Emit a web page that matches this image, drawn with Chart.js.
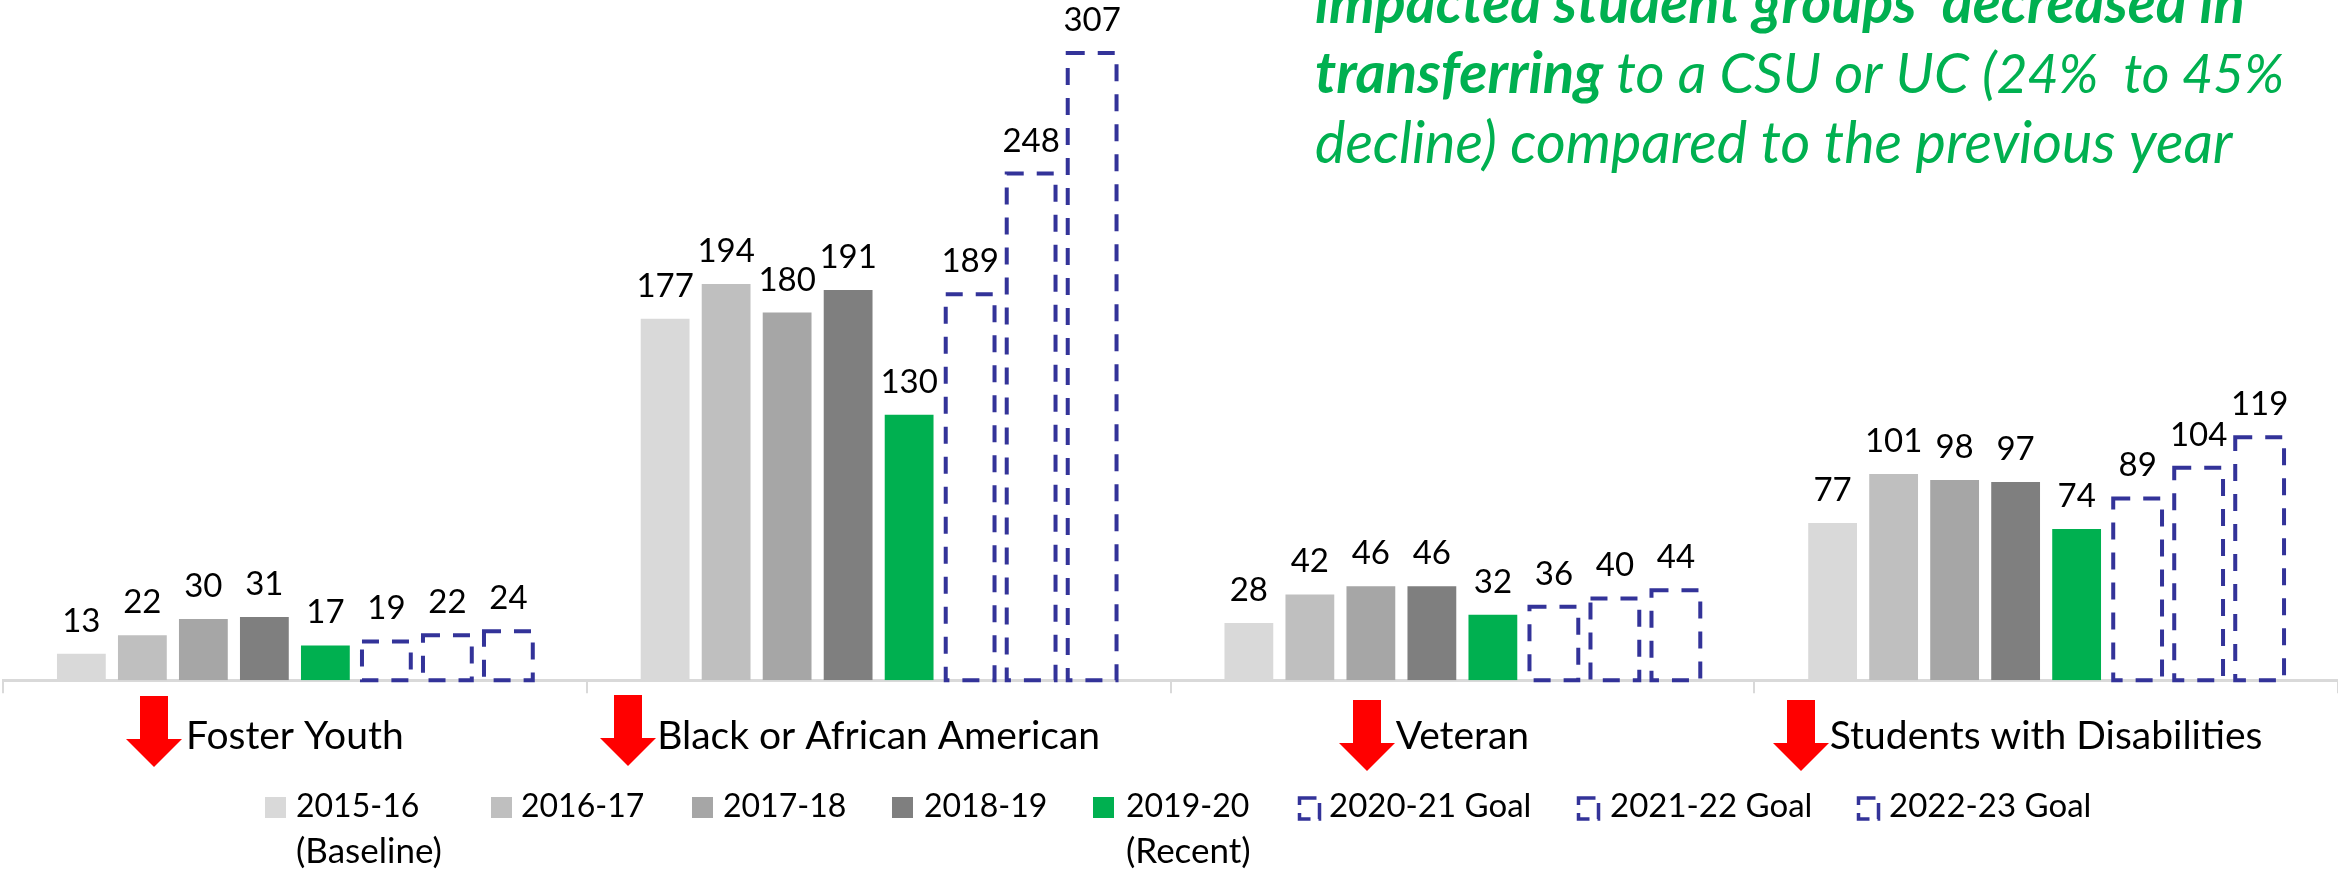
<!DOCTYPE html>
<html lang="en">
<head>
<meta charset="UTF-8">
<title>Transfer to CSU or UC by student group</title>
<script src="https://cdn.jsdelivr.net/npm/chart.js"></script>
<style>
    html, body { margin: 0; padding: 0; background: #fff; overflow: hidden; }
    canvas { display: block; }
</style>
</head>
<body>
<canvas id="transferChart" width="2338" height="871"></canvas>
<script>
const categories = ['Foster Youth', 'Black or African American', 'Veteran', 'Students with Disabilities'];
const seriesNames = ['2015-16', '2016-17', '2017-18', '2018-19', '2019-20', '2020-21 Goal', '2021-22 Goal', '2022-23 Goal'];
const values2015 = [13, 177, 28, 77];
const values2016 = [22, 194, 42, 101];
const values2017 = [30, 180, 46, 98];
const values2018 = [31, 191, 46, 97];
const values2019 = [17, 130, 32, 74];
const goal2020 = [19, 189, 36, 89];
const goal2021 = [22, 248, 40, 104];
const goal2022 = [24, 307, 44, 119];

const allValues = [values2015, values2016, values2017, values2018, values2019, goal2020, goal2021, goal2022];
const barColors = ['#d9d9d9', '#bfbfbf', '#a6a6a6', '#7f7f7f', '#00b050', 'transparent', 'transparent', 'transparent'];
const GOAL_BLUE = '#333399';
const GREEN = '#00b050';
const FONT = 'Lato, Carlito, sans-serif';

// legend entries: swatch x, text x, second line under the label
const legendItems = [
    { sx: 265, tx: 296, sub: '(Baseline)' },
    { sx: 491, tx: 521 },
    { sx: 692, tx: 723 },
    { sx: 892, tx: 924 },
    { sx: 1093, tx: 1126, sub: '(Recent)' },
    { sx: 1298, tx: 1329 },
    { sx: 1577, tx: 1610 },
    { sx: 1857, tx: 1889 }
];

// red arrows under the category axis
const arrows = [
    { x: 154, top: 696, neck: 739, tip: 767, stem: 14, head: 28 },
    { x: 628, top: 695, neck: 738, tip: 766, stem: 14, head: 28 },
    { x: 1367, top: 700, neck: 743, tip: 771, stem: 14, head: 28 },
    { x: 1801, top: 700, neck: 743, tip: 771, stem: 14, head: 28 }
];

// note in the top right corner, first line is cut by the page edge
// run = text, bold, font size
const noteLines = [
    { y: 23, runs: [['impacted student groups  decreased in', true, 57.5]] },
    { y: 93, runs: [['transferring', true, 58], [' to a CSU or UC (', false, 56], ['24%  to 45%', false, 53.5]] },
    { y: 163, runs: [['decline) compared to the previous year', false, 57.5]] }
];

const goalBars = {
    id: 'goalBars',
    afterDatasetsDraw(chart) {
        const ctx = chart.ctx;
        ctx.save();
        ctx.strokeStyle = GOAL_BLUE;
        ctx.lineWidth = 4;
        ctx.setLineDash([17, 13]);
        for (let d = 5; d < 8; d++) {
            chart.getDatasetMeta(d).data.forEach(function(bar) {
                const left = bar.x - bar.width / 2;
                ctx.strokeRect(left, bar.y, bar.width, bar.base - bar.y);
            });
        }
        ctx.restore();

        // value labels above every bar
        ctx.save();
        ctx.font = '33px ' + FONT;
        ctx.fillStyle = '#000';
        ctx.textAlign = 'center';
        ctx.textBaseline = 'alphabetic';
        chart.data.datasets.forEach(function(ds, d) {
            chart.getDatasetMeta(d).data.forEach(function(bar, i) {
                ctx.fillText(ds.data[i], bar.x, bar.y - 22);
            });
        });
        ctx.restore();
    }
};

const extras = {
    id: 'extras',
    afterDraw(chart) {
        const ctx = chart.ctx;

        // arrows
        ctx.save();
        ctx.fillStyle = '#ff0000';
        arrows.forEach(function(a) {
            ctx.beginPath();
            ctx.moveTo(a.x - a.stem, a.top);
            ctx.lineTo(a.x + a.stem, a.top);
            ctx.lineTo(a.x + a.stem, a.neck);
            ctx.lineTo(a.x + a.head, a.neck);
            ctx.lineTo(a.x, a.tip);
            ctx.lineTo(a.x - a.head, a.neck);
            ctx.lineTo(a.x - a.stem, a.neck);
            ctx.closePath();
            ctx.fill();
        });
        ctx.restore();

        // legend
        ctx.save();
        ctx.textBaseline = 'alphabetic';
        legendItems.forEach(function(item, i) {
            if (i < 5) {
                ctx.fillStyle = barColors[i];
                ctx.fillRect(item.sx, 797, 21, 21);
            } else {
                ctx.strokeStyle = GOAL_BLUE;
                ctx.lineWidth = 3.5;
                ctx.setLineDash([17, 8]);
                ctx.strokeRect(item.sx + 1.5, 798, 20, 21);
                ctx.setLineDash([]);
            }
            ctx.fillStyle = '#000';
            ctx.font = (i < 5 ? '32px ' : '33px ') + FONT;
            ctx.fillText(seriesNames[i], item.tx, 817);
            if (item.sub) {
                ctx.font = '35px ' + FONT;
                ctx.fillText(item.sub, item.tx, 863);
            }
        });
        ctx.restore();

        // note
        ctx.save();
        ctx.fillStyle = GREEN;
        ctx.textBaseline = 'alphabetic';
        noteLines.forEach(function(line) {
            let x = 1315;
            line.runs.forEach(function(run) {
                ctx.font = (run[1] ? 'italic bold ' : 'italic ') + run[2] + 'px ' + FONT;
                ctx.fillText(run[0], x, line.y);
                x += ctx.measureText(run[0]).width;
            });
        });
        ctx.restore();
    }
};

const ctx = document.getElementById('transferChart').getContext('2d');
const transferChart = new Chart(ctx, {
    type: 'bar',
    data: {
        labels: categories,
        datasets: allValues.map(function(vals, i) {
            return {
                label: seriesNames[i],
                data: vals,
                backgroundColor: barColors[i],
                borderWidth: 0,
                categoryPercentage: 0.836,
                barPercentage: 0.8
            };
        })
    },
    plugins: [goalBars, extras],
    options: {
        responsive: false,
        animation: false,
        layout: { padding: { left: 3, right: 0, top: 0, bottom: 91 } },
        plugins: { legend: { display: false }, tooltip: { enabled: false } },
        scales: {
            x: {
                z: 1,
                grid: { offset: true, drawOnChartArea: false, drawTicks: true, tickLength: 13, color: '#d9d9d9', lineWidth: 2 },
                border: { color: '#d9d9d9', width: 3 },
                ticks: { color: '#000', padding: 20, maxRotation: 0, autoSkip: false, font: { family: FONT, size: 39 } }
            },
            y: { display: false, min: 0, max: 333 }
        }
    }
});
</script>
</body>
</html>
